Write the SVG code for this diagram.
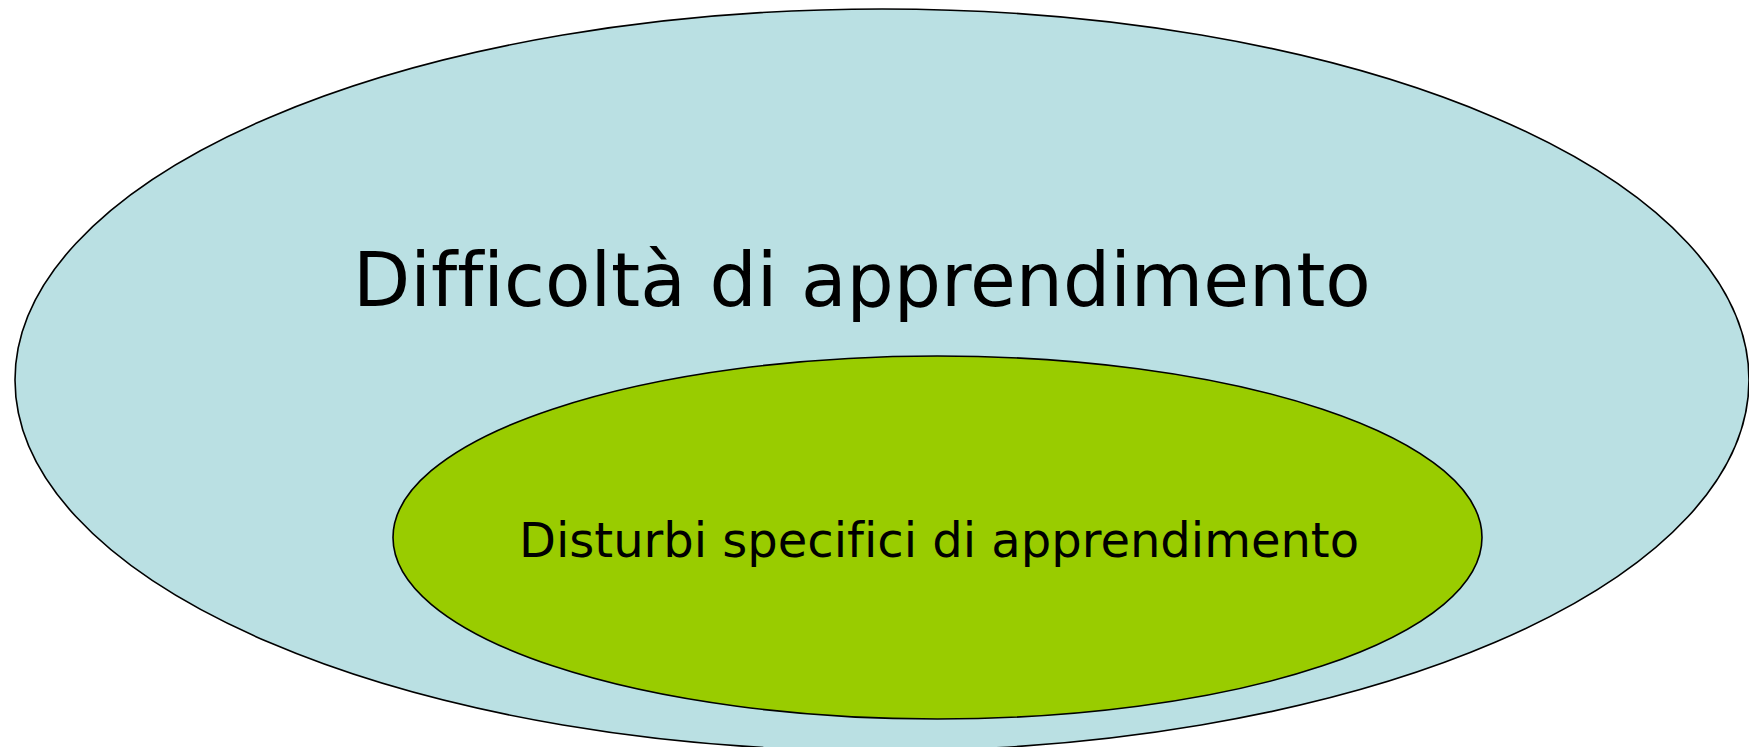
<svg xmlns="http://www.w3.org/2000/svg" width="1749" height="747" viewBox="0 0 1749 747">
<style>
.lbl{font-family:"DejaVu Sans","Verdana",sans-serif;fill:#000;font-variant-ligatures:none;font-feature-settings:"liga" 0}
.shape{stroke:#000;stroke-width:1.6}
</style>
<rect width="1749" height="747" fill="#ffffff"/>
<g id="node-difficolta">
<ellipse class="shape" cx="882" cy="380" rx="867" ry="371" fill="#BAE0E3"/>
<text class="lbl" x="353" y="306" font-size="74.4">Difficoltà di apprendimento</text>
</g>
<g id="node-dsa">
<ellipse class="shape" cx="937.5" cy="537.5" rx="544.5" ry="181.5" fill="#99CC00"/>
<text class="lbl" x="519" y="557" font-size="48">Disturbi specifici di apprendimento</text>
</g>
<g id="connectors"></g>
</svg>
